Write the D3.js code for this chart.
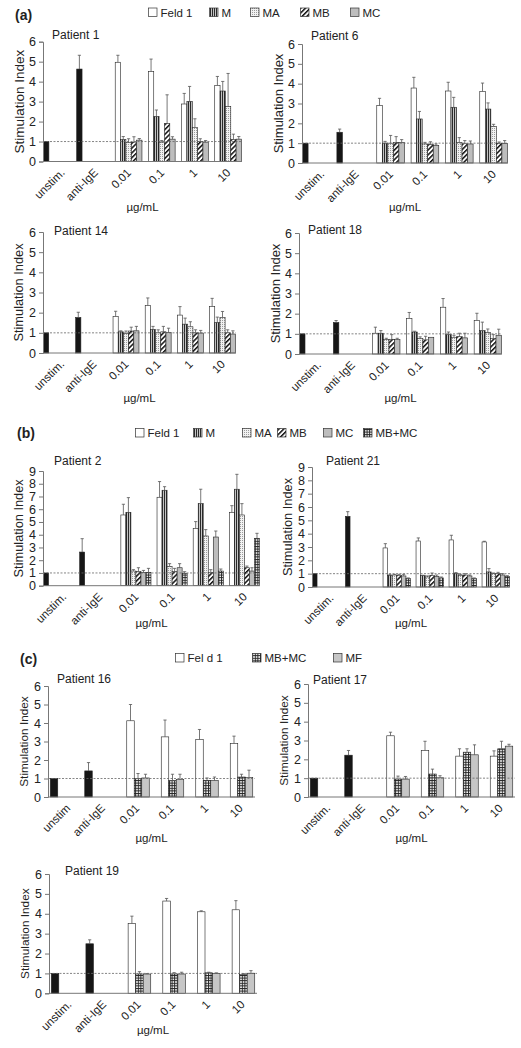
<!DOCTYPE html>
<html><head><meta charset="utf-8">
<script src="https://cdn.jsdelivr.net/npm/d3@7"></script>
<style>
body{margin:0;background:#fff}
svg{display:block}
text{font-family:"Liberation Sans",Arial,sans-serif;fill:#222}
</style>
</head><body>
<svg id="c" width="521" height="1048"></svg>
<script>
// ---------- DATA ----------
const categories = ["unstim.", "anti-IgE", "0.01", "0.1", "1", "10"];
const categoriesC16 = ["unstim", "anti-IgE", "0.01", "0.1", "1", "10"];
const seriesA = ["Feld 1", "M", "MA", "MB", "MC"];
const seriesB = ["Feld 1", "M", "MA", "MB", "MC", "MB+MC"];
const seriesC = ["Fel d 1", "MB+MC", "MF"];
const ticks6 = [0, 1, 2, 3, 4, 5, 6];
const ticks9 = [0, 1, 2, 3, 4, 5, 6, 7, 8, 9];

// Patient 1
const p1Ctrl = [1.0, 4.63], p1CtrlErr = [0, 0.69];
const p1Val = [[4.97, 4.5, 2.88, 3.81], [1.1, 2.26, 3.01, 3.53], [0.95, 0.97, 1.71, 2.76], [0.97, 1.91, 1.0, 1.1], [1.07, 1.12, 0.97, 1.12]];
const p1Err = [[0.35, 0.63, 0.53, 0.45], [0.15, 0.32, 0.75, 0.48], [0.19, 0.08, 0.43, 1.65], [0.27, 1.43, 0.14, 0.27], [0.08, 0.12, 0.08, 0.13]];
// Patient 6
const p6Ctrl = [1.0, 1.55], p6CtrlErr = [0, 0.16];
const p6Val = [[2.89, 3.78, 3.63, 3.61], [1.0, 2.22, 2.81, 2.72], [1.0, 0.96, 1.03, 1.85], [1.04, 0.94, 0.97, 1.0], [1.04, 0.89, 0.96, 0.99]];
const p6Err = [[0.37, 0.54, 0.44, 0.42], [0.09, 0.38, 0.5, 0.31], [0.39, 0.08, 0.25, 0.1], [0.29, 0.13, 0.16, 0.06], [0.14, 0.07, 0.15, 0.14]];
// Patient 14
const p14Ctrl = [1.0, 1.76], p14CtrlErr = [0, 0.26];
const p14Val = [[1.81, 2.35, 1.88, 2.3], [1.05, 1.17, 1.43, 1.51], [0.97, 1.0, 1.3, 1.76], [1.09, 1.05, 1.0, 1.0], [1.1, 1.02, 0.99, 0.94]];
const p14Err = [[0.26, 0.38, 0.42, 0.41], [0.05, 0.15, 0.3, 0.27], [0.12, 0.15, 0.25, 0.3], [0.19, 0.27, 0.15, 0.15], [0.22, 0.21, 0.13, 0.16]];
// Patient 18
const p18Ctrl = [1.0, 1.56], p18CtrlErr = [0, 0.1];
const p18Val = [[1.03, 1.77, 2.32, 1.66], [1.03, 1.09, 0.96, 1.16], [0.71, 0.76, 0.83, 1.06], [0.73, 0.7, 0.86, 0.76], [0.71, 0.83, 0.8, 0.93]];
const p18Err = [[0.3, 0.29, 0.43, 0.36], [0.13, 0.04, 0.13, 0.42], [0.07, 0.09, 0.1, 0.18], [0.23, 0.18, 0.17, 0.2], [0.07, 0.0, 0.23, 0.3]];
// Patient 2
const p2Ctrl = [1.0, 2.64], p2CtrlErr = [0, 1.05];
const p2Val = [[5.55, 6.94, 4.5, 5.76], [5.76, 7.49, 6.44, 7.57], [1.15, 1.52, 3.9, 5.55], [1.1, 1.1, 1.05, 1.41], [1.05, 1.41, 3.82, 1.15], [1.05, 0.97, 1.15, 3.72]];
const p2Err = [[0.84, 1.23, 0.53, 0.52], [1.15, 0.28, 1.13, 1.17], [0.11, 0.21, 0.5, 0.89], [0.31, 0.26, 0.21, 0.13], [0.15, 0.32, 0.47, 0.26], [0.31, 0.13, 0.16, 0.39]];
// Patient 21
const p21Ctrl = [1.0, 5.3], p21CtrlErr = [0, 0.35];
const p21Val = [[2.93, 3.45, 3.53, 3.38], [0.88, 0.85, 1.03, 1.13], [0.9, 0.75, 0.88, 1.0], [0.88, 0.88, 0.9, 1.0], [0.83, 0.8, 0.83, 0.9], [0.63, 0.68, 0.63, 0.8]];
const p21Err = [[0.32, 0.23, 0.35, 0.05], [0.07, 0.03, 0.05, 0.25], [0.05, 0.08, 0.07, 0.05], [0.07, 0.17, 0.1, 0.1], [0.12, 0.1, 0.07, 0.1], [0.05, 0.07, 0.05, 0.05]];
// Patient 16
const p16Ctrl = [1.0, 1.41], p16CtrlErr = [0, 0.45];
const p16Val = [[4.12, 3.25, 3.11, 2.89], [0.99, 0.89, 0.9, 1.08], [1.03, 0.94, 0.89, 1.05]];
const p16Err = [[0.88, 0.91, 0.54, 0.4], [0.28, 0.34, 0.13, 0.15], [0.2, 0.29, 0.19, 0.4]];
// Patient 17
const p17Ctrl = [1.0, 2.22], p17CtrlErr = [0, 0.25];
const p17Val = [[3.25, 2.47, 2.17, 2.17], [0.95, 1.22, 2.38, 2.56], [0.95, 1.02, 2.24, 2.7]];
const p17Err = [[0.19, 0.49, 0.39, 0.28], [0.16, 0.26, 0.18, 0.4], [0.14, 0.11, 0.53, 0.1]];
// Patient 19
const p19Ctrl = [1.0, 2.49], p19CtrlErr = [0, 0.2];
const p19Val = [[3.51, 4.64, 4.1, 4.2], [0.97, 0.97, 1.03, 0.94], [0.97, 0.97, 0.99, 1.01]];
const p19Err = [[0.37, 0.13, 0.05, 0.46], [0.12, 0.07, 0.03, 0.05], [0.02, 0.09, 0.04, 0.13]];

// ---------- STYLE / LAYOUT ----------
const fillFor = {"Feld 1":"#ffffff","Fel d 1":"#ffffff","M":"url(#patM)","MA":"url(#patMA)","MB":"url(#patMB)","MC":"#bdbdbd","MB+MC":"url(#patGrid)","MF":"#c6c6c6"};

const svg = d3.select("#c");
const defs = svg.append("defs");
{
  let p = defs.append("pattern").attr("id","patM").attr("patternUnits","userSpaceOnUse").attr("width",2).attr("height",4);
  p.append("rect").attr("width",2).attr("height",4).attr("fill","#c4c4c4");
  p.append("rect").attr("width",1).attr("height",4).attr("fill","#2a2a2a");
  p = defs.append("pattern").attr("id","patMA").attr("patternUnits","userSpaceOnUse").attr("width",2).attr("height",2);
  p.append("rect").attr("width",2).attr("height",2).attr("fill","#f2f2f2");
  p.append("rect").attr("width",1).attr("height",1).attr("fill","#9c9c9c");
  p = defs.append("pattern").attr("id","patMB").attr("patternUnits","userSpaceOnUse").attr("width",3.4).attr("height",4).attr("patternTransform","rotate(45)");
  p.append("rect").attr("width",3.4).attr("height",4).attr("fill","#fff");
  p.append("rect").attr("width",1.5).attr("height",4).attr("fill","#111");
  p = defs.append("pattern").attr("id","patGrid").attr("patternUnits","userSpaceOnUse").attr("width",2.6).attr("height",2.6);
  p.append("rect").attr("width",2.6).attr("height",2.6).attr("fill","#fff");
  p.append("rect").attr("width",1).attr("height",2.6).attr("fill","#222");
  p.append("rect").attr("width",2.6).attr("height",1).attr("fill","#222");
}

const charts = [
  {title:"Patient 1", cats:categories, series:seriesA, ctrl:p1Ctrl, ctrlErr:p1CtrlErr, val:p1Val, err:p1Err, ticks:ticks6,
   x0:43, x1:242, y0:161.5, yTop:41.7, tx:52, ty:39, xl:211, yfs:13.5, po:0.1},
  {title:"Patient 6", cats:categories, series:seriesA, ctrl:p6Ctrl, ctrlErr:p6CtrlErr, val:p6Val, err:p6Err, ticks:ticks6,
   x0:302, x1:508, y0:163, yTop:44, tx:311, ty:40, xl:211, yfs:13, po:0.1},
  {title:"Patient 14", cats:categories, series:seriesA, ctrl:p14Ctrl, ctrlErr:p14CtrlErr, val:p14Val, err:p14Err, ticks:ticks6,
   x0:43, x1:236, y0:353, yTop:232, tx:54, ty:235, xl:402, yfs:12.8, po:0.1},
  {title:"Patient 18", cats:categories, series:seriesA, ctrl:p18Ctrl, ctrlErr:p18CtrlErr, val:p18Val, err:p18Err, ticks:ticks6,
   x0:299, x1:502, y0:354, yTop:233, tx:308, ty:234, xl:402, yfs:13, po:0.1},
  {title:"Patient 2", cats:categories, series:seriesB, ctrl:p2Ctrl, ctrlErr:p2CtrlErr, val:p2Val, err:p2Err, ticks:ticks9,
   x0:43, x1:260, y0:585.7, yTop:471, tx:54, ty:465, xl:627, yfs:12.8, po:0.1},
  {title:"Patient 21", cats:categories, series:seriesB, ctrl:p21Ctrl, ctrlErr:p21CtrlErr, val:p21Val, err:p21Err, ticks:ticks9,
   x0:312, x1:510, y0:587, yTop:467, tx:326, ty:465, xl:627, yfs:12.8, po:0.1},
  {title:"Patient 16", cats:categoriesC16, series:seriesC, ctrl:p16Ctrl, ctrlErr:p16CtrlErr, val:p16Val, err:p16Err, ticks:ticks6,
   x0:48, x1:255, y0:797, yTop:686, tx:57, ty:683, xl:842, yfs:11.8, po:0.3},
  {title:"Patient 17", cats:categories, series:seriesC, ctrl:p17Ctrl, ctrlErr:p17CtrlErr, val:p17Val, err:p17Err, ticks:ticks6,
   x0:308, x1:515, y0:797, yTop:684, tx:313, ty:684, xl:842, yfs:11.8, po:0.3},
  {title:"Patient 19", cats:categories, series:seriesC, ctrl:p19Ctrl, ctrlErr:p19CtrlErr, val:p19Val, err:p19Err, ticks:ticks6,
   x0:49, x1:257, y0:993.3, yTop:874, tx:65, ty:875, xl:1034, yfs:11.8, po:0.3}
];

const panels = [
  {label:"(a)", lx:15, ly:20, ly0:12.5, items:seriesA, boxes:[148,209,250,300,350]},
  {label:"(b)", lx:17, ly:438, ly0:433, items:seriesB, boxes:[135,193,242,277,323,363]},
  {label:"(c)", lx:20, ly:664, ly0:658, items:seriesC, boxes:[175,252,333]}
];

// ---------- LEGENDS ----------
panels.forEach(p => {
  svg.append("text").attr("x",p.lx).attr("y",p.ly).attr("font-size",14).attr("font-weight","bold").text(p.label);
  p.items.forEach((name,i) => {
    svg.append("rect").attr("x",p.boxes[i]+0.5).attr("y",p.ly0-4.5).attr("width",8.5).attr("height",8.5)
      .attr("fill",fillFor[name]).attr("stroke","#333").attr("stroke-width",0.7);
    svg.append("text").attr("x",p.boxes[i]+12.5).attr("y",p.ly0+4).attr("font-size",11.5).attr("fill","#333").text(name);
  });
});

// ---------- CHARTS ----------
charts.forEach(c => {
  const g = svg.append("g");
  const x = d3.scaleBand().domain(c.cats).range([c.x0, c.x1]);
  const sub = d3.scaleBand().domain(d3.range(c.series.length + 1)).range([0, x.bandwidth()]).paddingOuter(c.po);
  const yMax = c.ticks[c.ticks.length - 1];
  const y = d3.scaleLinear().domain([0, yMax]).range([c.y0, c.yTop]);

  const bars = [];
  c.ctrl.forEach((v,i) => bars.push({cat:c.cats[i], slot:0, v, e:c.ctrlErr[i], fill:"#161616"}));
  c.series.forEach((s,si) => c.val[si].forEach((v,k) => bars.push({cat:c.cats[k+2], slot:si+1, v, e:c.err[si][k], fill:fillFor[s]})));

  g.selectAll("rect.bar").data(bars).join("rect").attr("class","bar")
    .attr("x", d => x(d.cat) + sub(d.slot))
    .attr("width", sub.bandwidth())
    .attr("y", d => y(d.v))
    .attr("height", d => y(0) - y(d.v))
    .attr("fill", d => d.fill)
    .attr("stroke", "#222").attr("stroke-width", 0.6);

  const eb = bars.filter(d => d.e > 0);
  g.selectAll("line.eb").data(eb).join("line").attr("class","eb")
    .attr("x1", d => x(d.cat) + sub(d.slot) + sub.bandwidth()/2)
    .attr("x2", d => x(d.cat) + sub(d.slot) + sub.bandwidth()/2)
    .attr("y1", d => y(d.v)).attr("y2", d => y(d.v + d.e))
    .attr("stroke","#555").attr("stroke-width",0.8);
  g.selectAll("line.cap").data(eb).join("line").attr("class","cap")
    .attr("x1", d => x(d.cat) + sub(d.slot) + sub.bandwidth()/2 - 1.6)
    .attr("x2", d => x(d.cat) + sub(d.slot) + sub.bandwidth()/2 + 1.6)
    .attr("y1", d => y(d.v + d.e)).attr("y2", d => y(d.v + d.e))
    .attr("stroke","#555").attr("stroke-width",0.8);

  g.append("line").attr("x1",c.x0).attr("x2",c.x1).attr("y1",y(1)).attr("y2",y(1))
    .attr("stroke","#666").attr("stroke-width",0.8).attr("stroke-dasharray","2,1.5");

  const ya = g.append("g").attr("transform",`translate(${c.x0},0)`)
    .call(d3.axisLeft(y).tickValues(c.ticks).tickFormat(d3.format("d")).tickSize(4).tickPadding(3));
  ya.select(".domain").attr("stroke","#777");
  ya.selectAll(".tick line").attr("stroke","#777");
  ya.selectAll(".tick text").attr("font-size",12.5).attr("fill","#333").attr("font-family","Liberation Sans, Arial, sans-serif");

  g.append("line").attr("x1",c.x0).attr("x2",c.x1).attr("y1",c.y0).attr("y2",c.y0).attr("stroke","#777").attr("stroke-width",1);

  g.selectAll("text.xl").data(c.cats).join("text").attr("class","xl")
    .attr("transform", d => `translate(${x(d) + x.bandwidth()/2 + 3},${c.y0 + 9}) rotate(-45)`)
    .attr("text-anchor","end").attr("dy","0.35em").attr("font-size",11.5).attr("fill","#333").text(d => d);

  g.append("text").attr("x",(c.x0 + c.x1)/2).attr("y",c.xl).attr("text-anchor","middle")
    .attr("font-size",11.5).attr("fill","#333").text("µg/mL");

  g.append("text").attr("transform",`translate(${c.x0 - 24},${(c.y0 + c.yTop)/2}) rotate(-90)`)
    .attr("text-anchor","middle").attr("dy","0.35em").attr("font-size",c.yfs).attr("fill","#333").text("Stimulation Index");

  g.append("text").attr("x",c.tx).attr("y",c.ty).attr("font-size",12).attr("fill","#333").text(c.title);
});
</script>
</body></html>
